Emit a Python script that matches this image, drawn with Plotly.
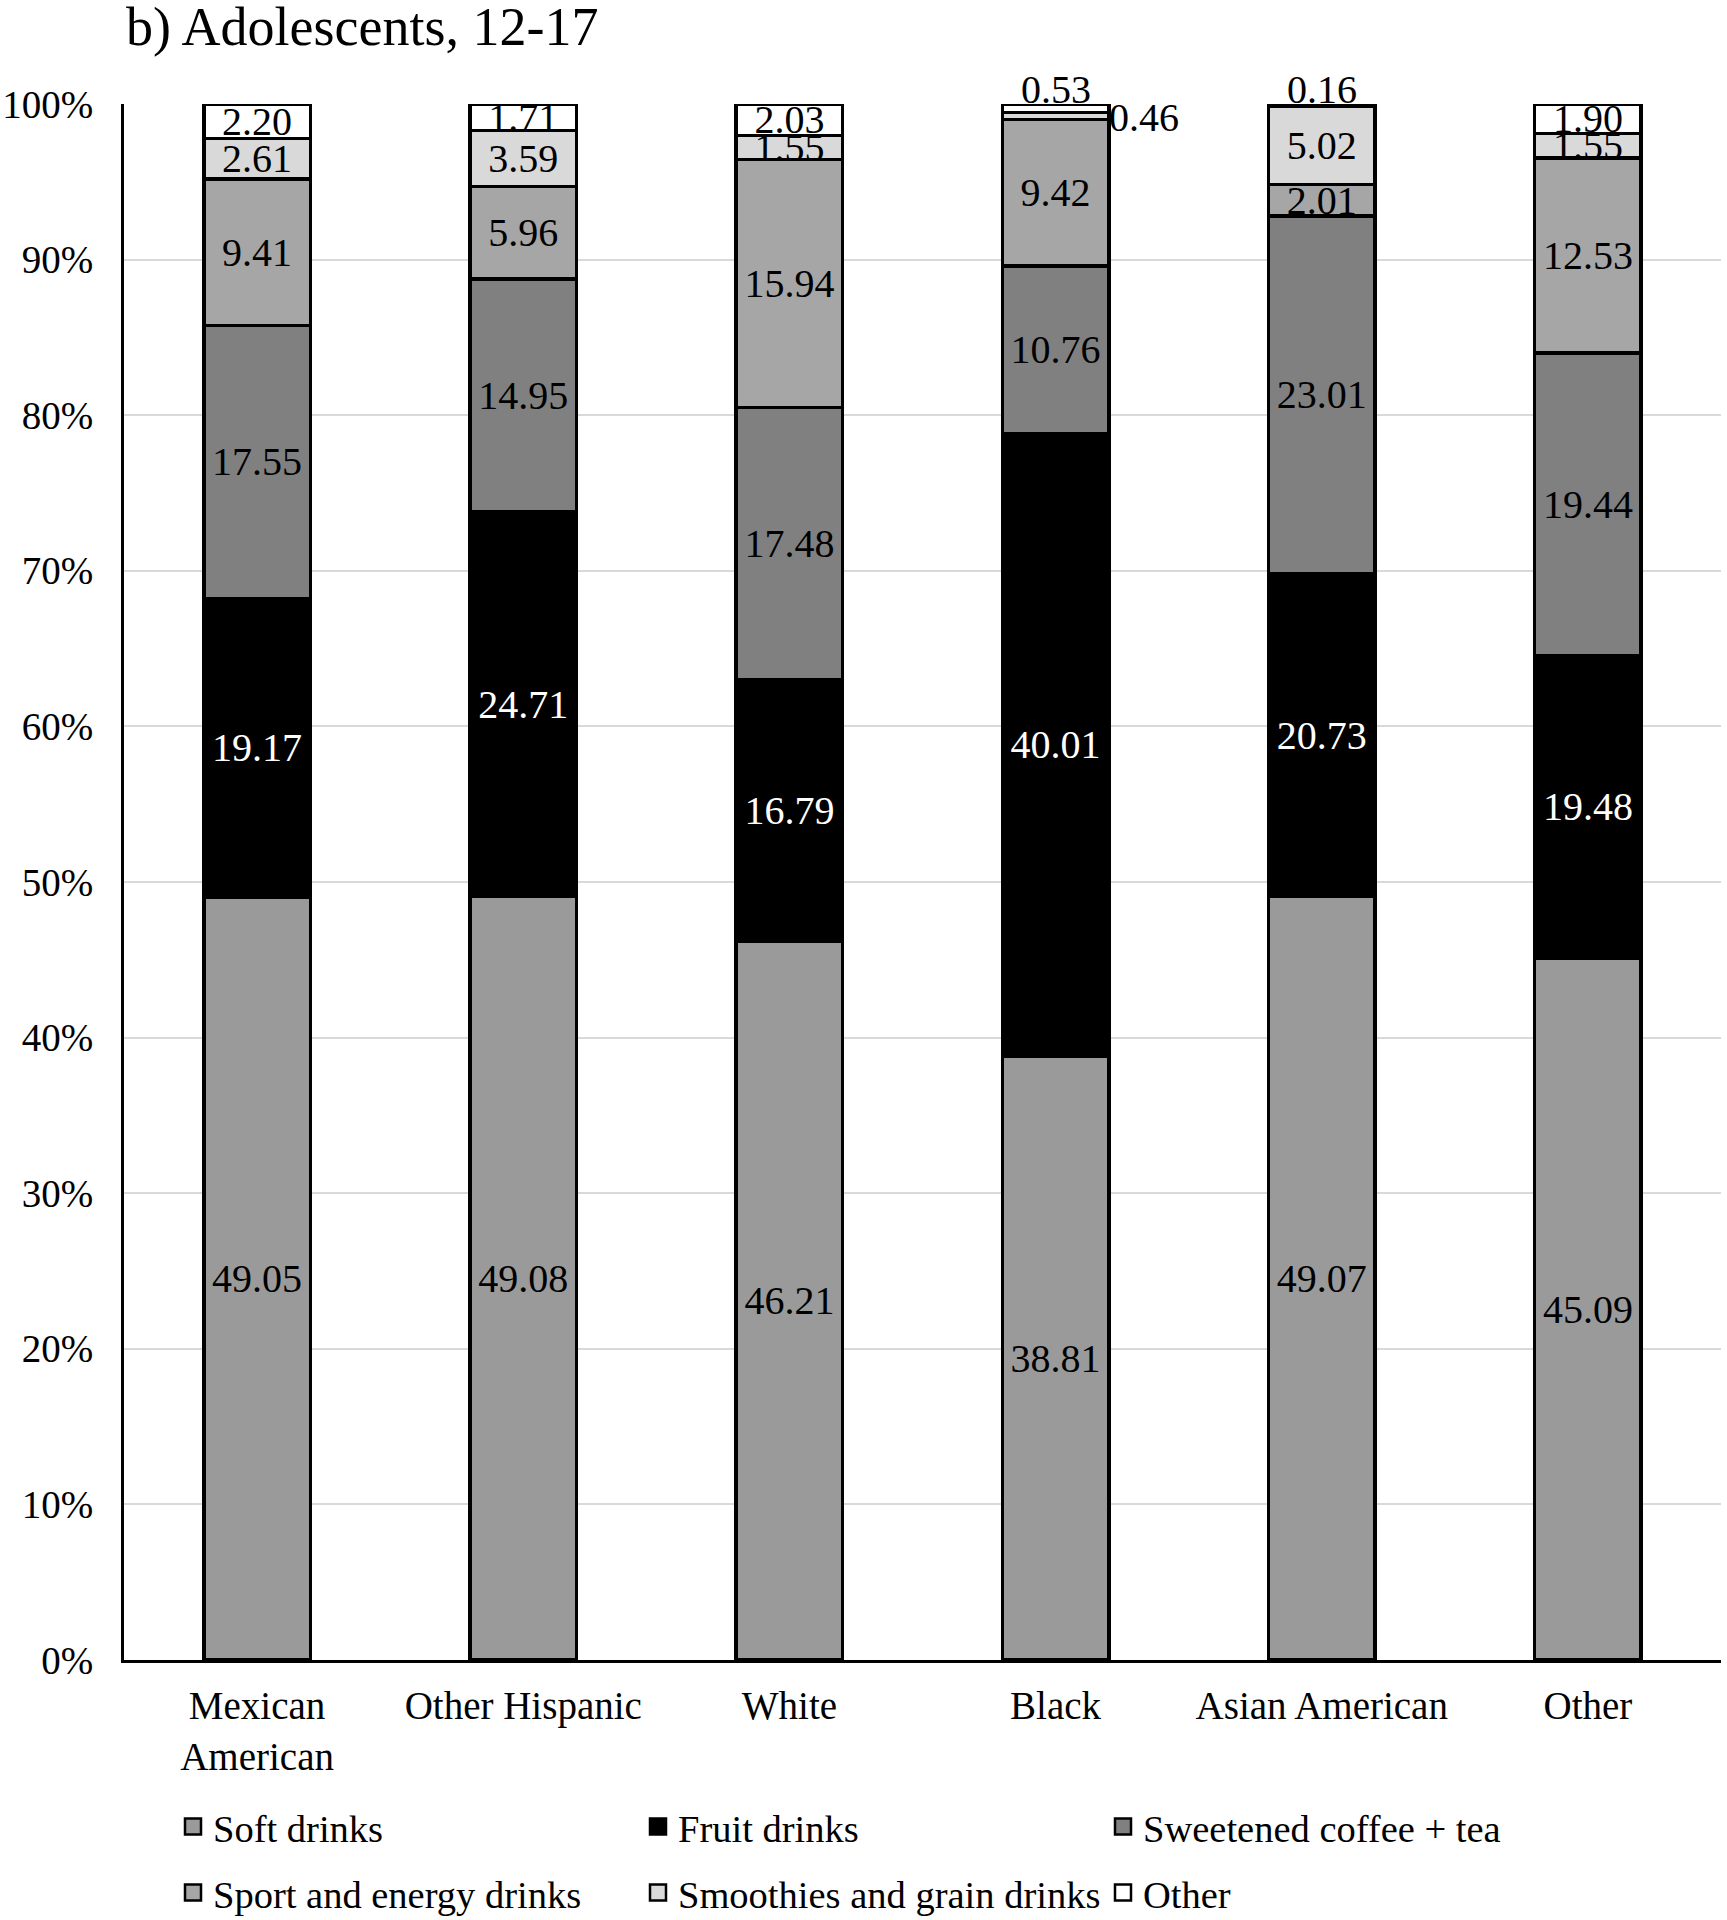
import plotly.graph_objects as go

categories = ["Mexican<br>American", "Other Hispanic", "White", "Black", "Asian American", "Other"]
series_names = ["Soft drinks", "Fruit drinks", "Sweetened coffee + tea",
                "Sport and energy drinks", "Smoothies and grain drinks", "Other"]

soft_drinks = [49.05, 49.08, 46.21, 38.81, 49.07, 45.09]
fruit_drinks = [19.17, 24.71, 16.79, 40.01, 20.73, 19.48]
coffee_tea = [17.55, 14.95, 17.48, 10.76, 23.01, 19.44]
sport_energy = [9.41, 5.96, 15.94, 9.42, 2.01, 12.53]
smoothies_grain = [2.61, 3.59, 1.55, 0.46, 5.02, 1.55]
other_drinks = [2.20, 1.71, 2.03, 0.53, 0.16, 1.90]

y_ticks = [0, 10, 20, 30, 40, 50, 60, 70, 80, 90, 100]
y_tick_labels = ["0%", "10%", "20%", "30%", "40%", "50%", "60%", "70%", "80%", "90%", "100%"]

series_values = [soft_drinks, fruit_drinks, coffee_tea, sport_energy, smoothies_grain, other_drinks]
fill_colors = ["#9a9a9a", "#000000", "#808080", "#a6a6a6", "#d9d9d9", "#ffffff"]
text_colors = ["#000000", "#ffffff", "#000000", "#000000", "#000000", "#000000"]

# labels placed outside the bar (series index, category index)
label_above = [(5, 3), (5, 4)]
label_right = [(4, 3)]

FONT = "Liberation Serif, Times New Roman, serif"
LABEL_SIZE = 40
TICK_SIZE = 39
LEGEND_SIZE = 38.5

W, H = 1727, 1920
ML, MR, MT, MB = 124, 6, 104, 260
plot_w = W - ML - MR
plot_h = H - MT - MB

fig = go.Figure()
for si, (name, vals) in enumerate(zip(series_names, series_values)):
    texts = []
    for ci, v in enumerate(vals):
        if (si, ci) in label_above or (si, ci) in label_right:
            texts.append("")
        else:
            texts.append(f"{v:.2f}")
    fig.add_trace(go.Bar(
        name=name, x=categories, y=vals, text=texts,
        textposition="inside", insidetextanchor="middle", textangle=0,
        constraintext="none",
        textfont=dict(family=FONT, size=LABEL_SIZE, color=text_colors[si]),
        marker=dict(color=fill_colors[si], line=dict(color="#000000", width=3.5)),
        width=0.4, hoverinfo="skip", showlegend=False,
    ))

# legend entries (square swatches), split over two legend rows
for si, name in enumerate(series_names):
    fig.add_trace(go.Scatter(
        name=name, x=[None], y=[None], mode="markers",
        marker=dict(symbol="square", size=16, color=fill_colors[si],
                    line=dict(color="#000000", width=2.5)),
        legend="legend" if si < 3 else "legend2", hoverinfo="skip",
    ))

# outside labels computed from data
for si, ci in label_above:
    top = sum(series_values[k][ci] for k in range(si + 1))
    fig.add_annotation(x=categories[ci], y=top, xref="x", yref="y", text=f"{series_values[si][ci]:.2f}",
                       showarrow=False, yanchor="middle", yshift=15,
                       font=dict(family=FONT, size=LABEL_SIZE, color="#000000"))
for si, ci in label_right:
    mid = sum(series_values[k][ci] for k in range(si)) + series_values[si][ci] / 2
    fig.add_annotation(x=ci + 0.2, y=mid, xref="x", yref="y", text=f"{series_values[si][ci]:.2f}",
                       showarrow=False, xanchor="left", yanchor="middle", xshift=-2, yshift=-2,
                       font=dict(family=FONT, size=LABEL_SIZE, color="#000000"))

legend_common = dict(orientation="h", xanchor="left", yanchor="middle",
                     entrywidth=420, entrywidthmode="pixels", traceorder="normal",
                     font=dict(family=FONT, size=LEGEND_SIZE, color="#000000"),
                     bgcolor="rgba(0,0,0,0)", borderwidth=0)
legend_x = 49 / plot_w

fig.update_layout(
    width=W, height=H,
    barmode="stack",
    plot_bgcolor="#ffffff", paper_bgcolor="#ffffff",
    margin=dict(l=ML, r=MR, t=MT, b=MB, autoexpand=False),
    font=dict(family=FONT, size=TICK_SIZE, color="#000000"),
    title=dict(text="b) Adolescents, 12-17", xref="container", yref="container",
               x=126 / W, y=1 - 26 / H, xanchor="left", yanchor="middle",
               font=dict(family=FONT, size=54, color="#000000")),
    showlegend=True,
    legend=dict(x=legend_x, y=-(1827 - (MT + plot_h)) / plot_h, **legend_common),
    legend2=dict(x=legend_x, y=-(1893 - (MT + plot_h)) / plot_h, **legend_common),
    bargap=0.6,
)
fig.update_xaxes(type="category", range=[-0.5, 5.5], showline=True, linecolor="#000000", linewidth=3,
                 showgrid=False, ticks="", ticklabelstandoff=9,
                 tickfont=dict(family=FONT, size=TICK_SIZE, color="#000000"), fixedrange=True)
fig.update_yaxes(range=[0, 100], tickvals=y_ticks, ticktext=y_tick_labels,
                 showline=True, linecolor="#000000", linewidth=3,
                 showgrid=True, gridcolor="#d9d9d9", gridwidth=2, zeroline=False,
                 ticks="", ticklabelstandoff=20,
                 tickfont=dict(family=FONT, size=TICK_SIZE, color="#000000"), fixedrange=True)

fig.write_html("out.html", config={"displayModeBar": False, "staticPlot": True},
               post_script="document.body.style.margin='0';document.body.style.overflow='hidden';")
